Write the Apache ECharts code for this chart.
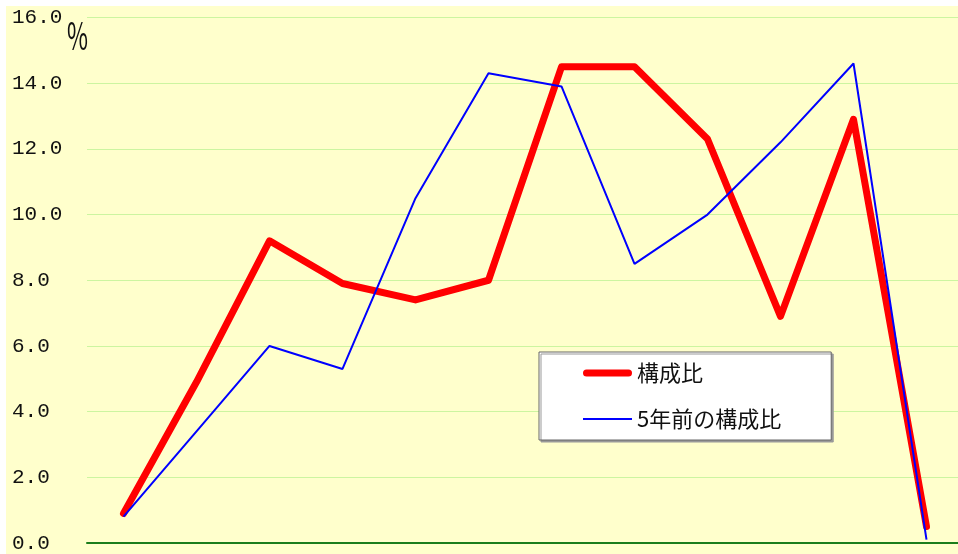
<!DOCTYPE html>
<html>
<head>
<meta charset="utf-8">
<script src="https://cdn.jsdelivr.net/npm/echarts@6/dist/echarts.min.js"></script>
<style>
    html, body { margin: 0; padding: 0; background: #ffffff; overflow: hidden; }
    #chart { position: absolute; left: 6px; top: 6px; width: 957px; height: 548px; }
</style>
</head>
<body>
<div id="chart"></div>
<script>
// 12 区分 (ラベルは元の図でも非表示)
const categories = ['1', '2', '3', '4', '5', '6', '7', '8', '9', '10', '11', '12']
const ratioNow = [0.9, 4.9, 9.2, 7.9, 7.4, 8.0, 14.5, 14.5, 12.3, 6.9, 12.9, 0.5]
const ratio5yAgo = [0.8, 3.4, 6.0, 5.3, 10.5, 14.3, 13.9, 8.5, 10.0, 12.2, 14.6, 0.1]
const seriesNames = ['構成比', '5年前の構成比']
const unitLabel = '%'

const chart = echarts.init(document.getElementById('chart'))

const option = {
    backgroundColor: '#ffffcc',
    animation: false,
    grid: {
        left: 81,
        right: 0,
        top: 11.5,
        bottom: 11
    },
    legend: {
        orient: 'vertical',
        left: 533,
        top: 346,
        padding: [10, 50, 10, 44],
        itemWidth: 49,
        itemHeight: 22,
        itemGap: 24,
        backgroundColor: '#ffffff',
        borderColor: '#666666',
        borderWidth: 1,
        shadowColor: '#999999',
        shadowOffsetX: 2,
        shadowOffsetY: 2,
        shadowBlur: 0,
        textStyle: {
            fontFamily: 'Noto Sans CJK JP',
            fontSize: 22,
            color: '#111111'
        },
        data: [
            { name: seriesNames[0], icon: 'path://M3.5,0 H45.5 A3.5,3.5 0 0 1 45.5,7 H3.5 A3.5,3.5 0 0 1 3.5,0 Z' },
            { name: seriesNames[1], icon: 'path://M0,0 H49 V2 H0 Z' }
        ]
    },
    graphic: [
        {
            type: 'text',
            left: 61,
            top: 11,
            scaleX: 0.6,
            style: {
                text: unitLabel,
                fontFamily: 'Noto Sans CJK JP',
                fontSize: 38,
                fill: '#111111'
            }
        }
    ],
    xAxis: {
        type: 'category',
        data: categories,
        boundaryGap: true,
        axisLine: {
            lineStyle: { color: '#1b7d1b', width: 2 }
        },
        axisTick: {
            length: 6,
            lineStyle: { color: '#a9d88a' }
        },
        axisLabel: { show: false },
        splitLine: { show: false }
    },
    yAxis: {
        type: 'value',
        min: 0,
        max: 16,
        interval: 2,
        axisLine: { show: false },
        axisTick: { show: false },
        axisLabel: {
            align: 'left',
            margin: 75,
            fontFamily: 'Liberation Mono',
            fontSize: 21,
            color: '#111111',
            formatter: v => v.toFixed(1)
        },
        splitLine: {
            lineStyle: { color: '#ccf5a0', width: 1 }
        }
    },
    series: [
        {
            name: seriesNames[0],
            type: 'line',
            data: ratioNow,
            symbol: 'none',
            z: 3,
            lineStyle: {
                color: '#ff0000',
                width: 7,
                cap: 'round',
                join: 'round'
            },
            itemStyle: { color: '#ff0000' }
        },
        {
            name: seriesNames[1],
            type: 'line',
            data: ratio5yAgo,
            symbol: 'none',
            z: 4,
            lineStyle: {
                color: '#0000ff',
                width: 2
            },
            itemStyle: { color: '#0000ff' }
        }
    ]
}

chart.setOption(option)
</script>
</body>
</html>
